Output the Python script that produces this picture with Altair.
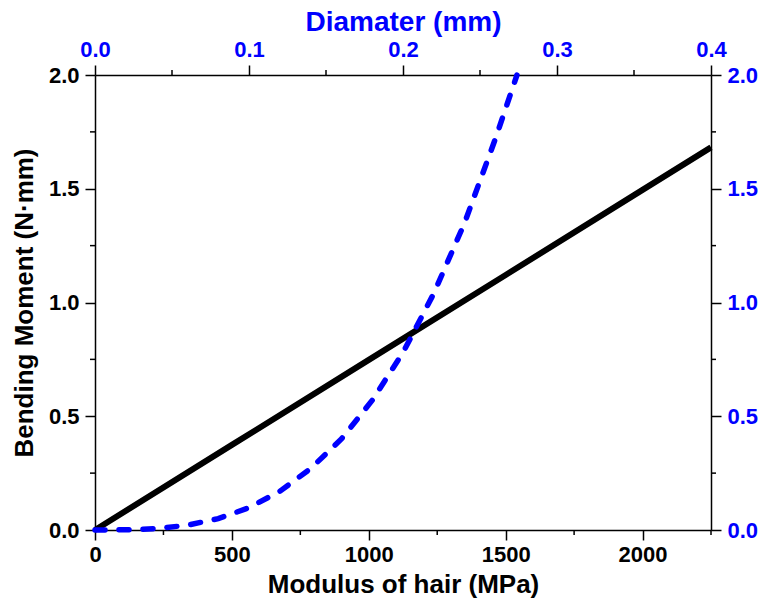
import altair as alt
import pandas as pd

# --- data ---
modulus = [0, 500, 1000, 1500, 2000, 2250]                  # MPa
moment_modulus = [0.0, 0.374, 0.748, 1.121, 1.495, 1.682]   # N·mm

diameter = [0.0, 0.02, 0.04, 0.06, 0.08, 0.10, 0.12, 0.14, 0.16, 0.18, 0.20, 0.22, 0.24, 0.26, 0.274]  # mm
moment_diameter = [0.0, 0.001, 0.006, 0.021, 0.05, 0.098, 0.17, 0.27, 0.40, 0.57, 0.78, 1.04, 1.35, 1.72, 2.0]

# axis ticks
x_major = [0, 500, 1000, 1500, 2000]
x_minor = [250, 750, 1250, 1750, 2250]
y_major = [0.0, 0.5, 1.0, 1.5, 2.0]
y_minor = [0.25, 0.75, 1.25, 1.75]
d_major = [0.0, 0.1, 0.2, 0.3, 0.4]
d_minor = [0.05, 0.15, 0.25, 0.35]

FONT = "Liberation Sans"
BLUE = "#0000FF"
W, H = 616, 455

df1 = pd.DataFrame({"E": modulus, "M": moment_modulus})
df2 = pd.DataFrame({"d": diameter, "M2": moment_diameter})

common = dict(
    domainColor="black", domainWidth=1.5, tickColor="black", tickWidth=1.5, tickSize=10,
    labelFont=FONT, labelFontSize=22, labelFontWeight="bold",
    titleFont=FONT, titleFontWeight="bold", grid=False,
    labelOverlap=False, labelFlush=False,
)

sx1 = alt.Scale(domain=[0, 2250], nice=False, zero=False)
sy = alt.Scale(domain=[0, 2], nice=False)
sx2 = alt.Scale(domain=[0, 0.4], nice=False, zero=False)

black = alt.Chart(df1).mark_line(color="black", strokeWidth=6).encode(
    x=alt.X("E:Q", scale=sx1,
            axis=alt.Axis(orient="bottom", values=x_major, format="d",
                          labelPadding=4, title="Modulus of hair (MPa)",
                          titleFontSize=26, titleColor="black", labelColor="black",
                          titlePadding=6, **common)),
    y=alt.Y("M:Q", scale=sy,
            axis=alt.Axis(orient="left", values=y_major, format=".1f",
                          labelPadding=6, title="Bending Moment (N·mm)",
                          titleFontSize=26, titleColor="black", labelColor="black",
                          titlePadding=11, **common)),
)

bottom_minor = alt.Chart(pd.DataFrame({"E": x_minor})).mark_rule(color="black", strokeWidth=1.5).encode(
    x=alt.X("E:Q", scale=sx1, title="Modulus of hair (MPa)"), y=alt.value(H), y2=alt.value(H + 5))
left_minor = alt.Chart(pd.DataFrame({"M": y_minor})).mark_rule(color="black", strokeWidth=1.5).encode(
    y=alt.Y("M:Q", scale=sy, title="Bending Moment (N·mm)"), x=alt.value(0), x2=alt.value(-5))

blue = alt.Chart(df2).mark_line(color=BLUE, strokeWidth=5.5, strokeDash=[10, 14], strokeCap="round").encode(
    x=alt.X("d:Q", scale=sx2,
            axis=alt.Axis(orient="top", values=d_major, format=".1f",
                          labelPadding=4, title="Diamater (mm)",
                          titleFontSize=28, titleColor=BLUE, labelColor=BLUE,
                          titlePadding=2, **common)),
    y=alt.Y("M2:Q", scale=sy,
            axis=alt.Axis(orient="right", values=y_major, format=".1f",
                          labelPadding=6, title=None, labelColor=BLUE, **common)),
)

top_minor = alt.Chart(pd.DataFrame({"d": d_minor})).mark_rule(color="black", strokeWidth=1.5).encode(
    x=alt.X("d:Q", scale=sx2, title="Diamater (mm)"), y=alt.value(0), y2=alt.value(-5))
right_minor = alt.Chart(pd.DataFrame({"M2": y_minor})).mark_rule(color="black", strokeWidth=1.5).encode(
    y=alt.Y("M2:Q", scale=sy, title=None), x=alt.value(W), x2=alt.value(W + 5))

layer1 = alt.layer(black, bottom_minor, left_minor)
layer2 = alt.layer(blue, top_minor, right_minor)

chart = alt.layer(layer1, layer2).resolve_scale(x="independent", y="independent").properties(
    width=W, height=H,
    autosize=alt.AutoSizeParams(type="none"),
    padding={"left": 95, "top": 75, "right": 52, "bottom": 72},
    background="white",
).configure_view(stroke=None)

chart.save("out.html", embed_options={"renderer": "svg", "actions": False})
